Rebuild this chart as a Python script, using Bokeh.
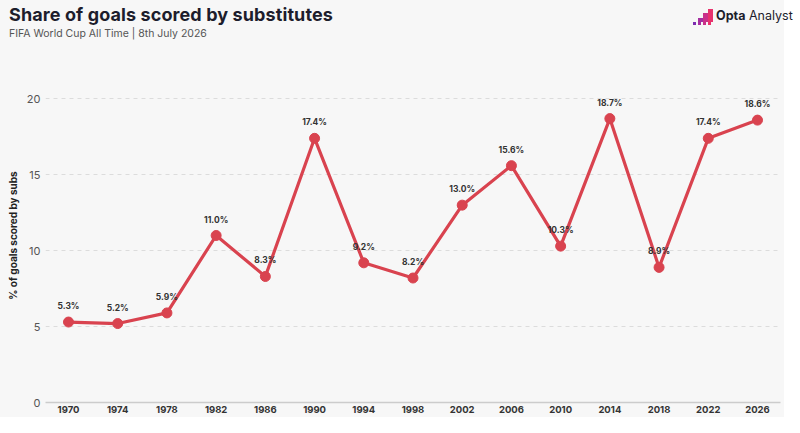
from bokeh.plotting import figure
from bokeh.layouts import column
from bokeh.models import Div, FixedTicker, Range1d, ColumnDataSource
from bokeh.core.properties import value
from bokeh.embed import file_html
from bokeh.resources import INLINE

years = [1970, 1974, 1978, 1982, 1986, 1990, 1994, 1998, 2002, 2006, 2010, 2014, 2018, 2022, 2026]
share = [5.3, 5.2, 5.9, 11.0, 8.3, 17.4, 9.2, 8.2, 13.0, 15.6, 10.3, 18.7, 8.9, 17.4, 18.6]
labels = [f"{v:.1f}%" for v in share]
y_ticks = [0, 5, 10, 15, 20]

TITLE = "Share of goals scored by substitutes"
SUBTITLE = "FIFA World Cup All Time | 8th July 2026"

FONT = "Inter"
BG = "#f7f7f7"
RED = "#d9434f"
DARK = "#1d1d2c"

# ---- header (title, subtitle, logo) as HTML ----
icon_rows = ["...#", "..##", ".###", "####"]
icon_cols = ["#7d2db0", "#a52fa0", "#c9318a", "#e8336d"]
squares = []
for r, row in enumerate(icon_rows):
    for c, ch in enumerate(row):
        if ch == "#":
            sz = 3 if r == 3 else 4.5
            squares.append(
                f'<div style="position:absolute;left:{c*5:.1f}px;top:{r*4.4:.1f}px;'
                f'width:{sz}px;height:{sz}px;background:{icon_cols[c]};"></div>')
icon_html = "".join(squares)

html = f'''
<div style="position:relative;width:784px;height:40px;background:{BG};font-family:'{FONT}',sans-serif;">
  <div style="position:absolute;left:9px;top:4px;font-size:18px;line-height:22px;font-weight:700;color:{DARK};white-space:nowrap;letter-spacing:0.1px;">{TITLE}</div>
  <div style="position:absolute;left:9px;top:27px;font-size:10.5px;line-height:13px;font-weight:400;color:#555555;white-space:nowrap;">{SUBTITLE}</div>
  <div style="position:absolute;left:693px;top:9px;width:20px;height:16px;">{icon_html}</div>
  <div style="position:absolute;left:716px;top:8px;font-size:12.5px;line-height:16px;color:{DARK};white-space:nowrap;"><b>Opta</b> Analyst</div>
</div>
'''
head = Div(text=html, width=784, height=40,
           styles={"background-color": BG, "margin": "0", "padding": "0"})

# ---- main chart ----
src = ColumnDataSource(dict(x=years, y=share, t=labels))

p = figure(width=784, height=377, output_backend="svg", toolbar_location=None,
           x_range=Range1d(1968.13, 2027.87), y_range=Range1d(0, 22),
           background_fill_color=BG, border_fill_color=BG,
           min_border_left=45, min_border_right=4, min_border_top=28, min_border_bottom=15)
p.outline_line_color = None

p.line("x", "y", source=src, line_color=RED, line_width=3.2)
p.scatter("x", "y", source=src, size=10, fill_color=RED, line_color=RED)
p.text("x", "y", text="t", source=src, y_offset=-16, text_align="center",
       text_baseline="middle", text_font=value(FONT), text_font_size="8.5px",
       text_font_style="bold", text_color="#333333")

p.xaxis.ticker = FixedTicker(ticks=years)
p.yaxis.ticker = FixedTicker(ticks=y_ticks)
p.xgrid.grid_line_color = None
p.ygrid.grid_line_color = "#dcdcdc"
p.ygrid.grid_line_dash = "4 4"
p.ygrid.grid_line_width = 1

p.xaxis.axis_line_color = "#cccccc"
p.xaxis.axis_line_width = 1.5
p.xaxis.major_tick_line_color = None
p.xaxis.minor_tick_line_color = None
p.xaxis.major_tick_out = 0
p.xaxis.major_tick_in = 0
p.xaxis.minor_tick_out = 0
p.xaxis.major_label_text_font = FONT
p.xaxis.major_label_text_font_size = "9.5px"
p.xaxis.major_label_text_font_style = "bold"
p.xaxis.major_label_text_color = "#333333"
p.xaxis.major_label_standoff = 3

p.yaxis.axis_line_color = None
p.yaxis.major_tick_line_color = None
p.yaxis.minor_tick_line_color = None
p.yaxis.major_tick_out = 0
p.yaxis.major_tick_in = 0
p.yaxis.minor_tick_out = 0
p.yaxis.major_label_text_font = FONT
p.yaxis.major_label_text_font_size = "11px"
p.yaxis.major_label_text_color = "#555555"
p.yaxis.major_label_standoff = 5
p.yaxis.axis_label = "% of goals scored by subs"
p.yaxis.axis_label_text_font = FONT
p.yaxis.axis_label_text_font_size = "10px"
p.yaxis.axis_label_text_font_style = "bold"
p.yaxis.axis_label_text_color = "#222222"
p.yaxis.axis_label_standoff = 5

layout = column(head, p, spacing=0, styles={"background-color": BG})
open("out.html", "w").write(file_html(layout, INLINE))
